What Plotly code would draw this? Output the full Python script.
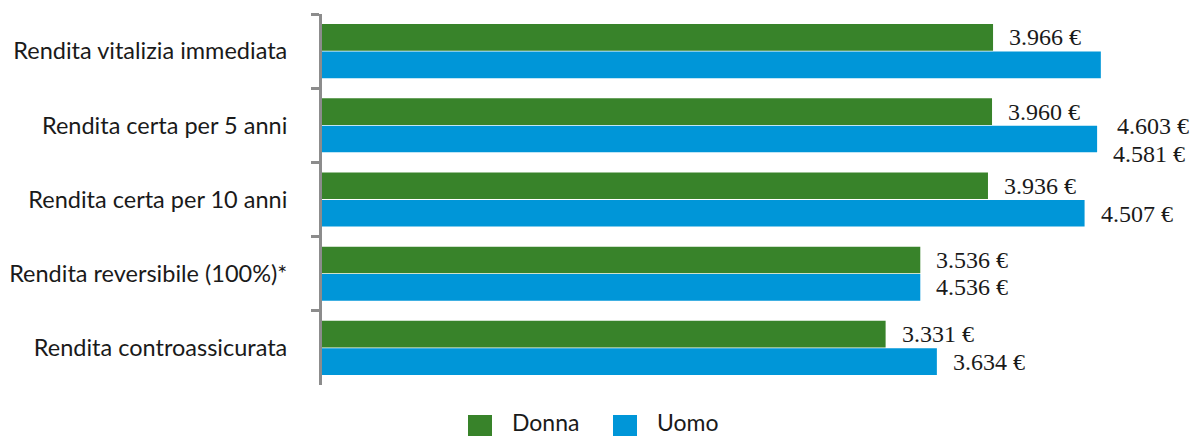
import plotly.graph_objects as go

categories = [
    "Rendita vitalizia immediata",
    "Rendita certa per 5 anni",
    "Rendita certa per 10 anni",
    "Rendita reversibile (100%)*",
    "Rendita controassicurata",
]
series_names = ["Donna", "Uomo"]
donna_values = [3966, 3960, 3936, 3536, 3331]
uomo_values = [4603, 4581, 4507, 3536, 3634]
donna_labels = ["3.966 €", "3.960 €", "3.936 €", "3.536 €", "3.331 €"]
uomo_labels = ["4.603 €", "4.581 €", "4.507 €", "4.536 €", "3.634 €"]

# styling
colors = ["#38832a", "#0096d8"]
uomo_label_drop_px = [61, 15, 1, 0, 0]
W, H = 1194, 436
ML, MR, MT, MB = 322, 26, 14, 51
XMAX = 5000
BARGAP = 0.26
half_off = (1 - BARGAP) / 4  # bar centre offset in category units

fig = go.Figure()
fig.add_trace(go.Bar(y=categories, x=donna_values, name=series_names[0], orientation="h",
                     marker=dict(color=colors[0], line=dict(width=0)), showlegend=False))
fig.add_trace(go.Bar(y=categories, x=uomo_values, name=series_names[1], orientation="h",
                     marker=dict(color=colors[1], line=dict(width=0)), showlegend=False))

label_font = dict(family="Liberation Serif, Times New Roman, serif", size=24, color="#1a1a1a")
ann = []
for i in range(len(categories)):
    ann.append(dict(x=donna_values[i], y=i - half_off, xref="x", yref="y", text=donna_labels[i],
                    showarrow=False, xanchor="left", yanchor="middle", xshift=14, font=label_font))
    ann.append(dict(x=uomo_values[i], y=i + half_off, xref="x", yref="y", text=uomo_labels[i],
                    showarrow=False, xanchor="left", yanchor="middle", xshift=14,
                    yshift=-uomo_label_drop_px[i], font=label_font))

# manual legend
plot_w = W - ML - MR
plot_h = H - MT - MB
def px_to_paper_x(px):
    return (px - ML) / plot_w
def px_to_paper_y(py):
    return (H - MB - py) / plot_h

sans = "Lato, sans-serif"
shapes = []
leg_items = [(468, 512), (613, 657)]
for (sq_x, tx_x), name, col in zip(leg_items, series_names, colors):
    shapes.append(dict(type="rect", xref="paper", yref="paper",
                       x0=px_to_paper_x(sq_x), x1=px_to_paper_x(sq_x + 24),
                       y0=px_to_paper_y(415), y1=px_to_paper_y(439),
                       fillcolor=col, line=dict(width=0), layer="above"))
    ann.append(dict(x=px_to_paper_x(tx_x), y=px_to_paper_y(422), xref="paper", yref="paper",
                    text=name, showarrow=False, xanchor="left", yanchor="middle", xshift=-2,
                    font=dict(family=sans, size=23, color="#1a1a1a")))

n = len(categories)
fig.update_layout(
    width=W, height=H,
    margin=dict(l=ML, r=MR, t=MT, b=MB, autoexpand=False),
    paper_bgcolor="white", plot_bgcolor="white",
    barmode="group", bargap=BARGAP, bargroupgap=0.03,
    showlegend=False,
    annotations=ann, shapes=shapes,
    xaxis=dict(range=[0, XMAX], visible=False),
    yaxis=dict(type="category", range=[n - 0.5, -0.5], autorange=False,
               showline=True, linewidth=3,
               linecolor="#8c8c8c", ticks="outside", tickson="boundaries", ticklen=8,
               tickwidth=3, tickcolor="#8c8c8c", showgrid=False, zeroline=False,
               ticklabelstandoff=27,
               tickfont=dict(family=sans, size=23.5, color="#1a1a1a")),
)

fig.write_html("out.html")
